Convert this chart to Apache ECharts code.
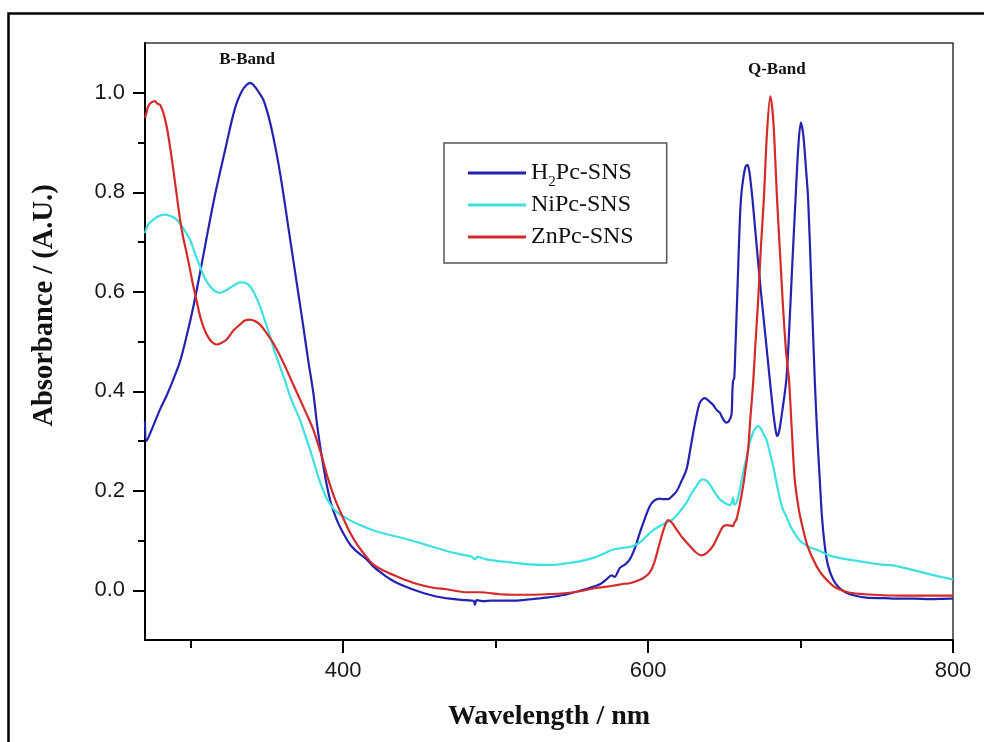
<!DOCTYPE html>
<html>
<head>
<meta charset="utf-8">
<script src="https://cdn.jsdelivr.net/npm/echarts@6/dist/echarts.min.js"></script>
<style>
html,body{margin:0;padding:0;background:#fff;}
#chart{width:984px;height:742px;}
</style>
</head>
<body>
<div id="chart"></div>
<script>
// ---------- data ----------
const seriesNames = ['H2Pc-SNS', 'NiPc-SNS', 'ZnPc-SNS'];

const h2pcWavelength = [270,271,274,279.8,284,288.6,293,297.3,301.7,306.1,310.5,314.8,319.2,323.6,327,330.1,333.5,336.7,339,341,344,347.6,351,354.1,357.5,360.7,364,367.2,370.5,373.8,377,380.4,383,385.9,389,392,396,400,405,410,415.4,420,426.3,432,437.2,442,448.2,453,459,464,470,476,481,485.5,486.4,487.5,492,497,502.8,511.5,520,527,533.4,540,547,555.2,562,568.4,572.7,576,578,581.5,585,588,590.2,592,594.6,598,601.1,604,607.7,610,613.1,616,618.7,622,625.2,627.5,629.6,631.7,633.9,636,637.2,640,642.6,644.8,647,649,651.3,653,654.7,655.3,655.7,656.5,657.2,658,659,660,661,662.5,664,665.2,666.5,668.5,671,674,677,679.8,682,683.5,684.6,686,688,690.7,692.5,694.5,696.7,698.5,700.2,701.8,703.5,705,707,709.3,711,712.6,714,715.9,718,721.3,725,730,736,743.1,755,765,775,785,797.9,800];
const h2pcAbsorbance = [0.34,0.30,0.32,0.363,0.39,0.424,0.46,0.511,0.57,0.638,0.71,0.778,0.84,0.899,0.945,0.979,1.003,1.016,1.02,1.016,1.004,0.986,0.953,0.912,0.858,0.798,0.73,0.665,0.598,0.531,0.463,0.397,0.33,0.27,0.215,0.175,0.14,0.115,0.09,0.075,0.062,0.047,0.032,0.02,0.012,0.006,-0.001,-0.006,-0.011,-0.014,-0.017,-0.019,-0.02,-0.021,-0.029,-0.02,-0.022,-0.021,-0.021,-0.021,-0.019,-0.017,-0.015,-0.012,-0.008,-0.001,0.005,0.012,0.022,0.03,0.027,0.045,0.052,0.062,0.076,0.09,0.116,0.145,0.169,0.18,0.184,0.183,0.183,0.19,0.199,0.22,0.243,0.28,0.317,0.35,0.377,0.385,0.386,0.38,0.373,0.363,0.357,0.345,0.337,0.34,0.353,0.40,0.42,0.427,0.48,0.55,0.64,0.73,0.79,0.83,0.852,0.855,0.84,0.785,0.70,0.60,0.51,0.424,0.36,0.325,0.31,0.32,0.36,0.424,0.52,0.65,0.785,0.89,0.94,0.915,0.85,0.785,0.62,0.424,0.31,0.223,0.15,0.089,0.05,0.022,0.006,-0.005,-0.011,-0.015,-0.016,-0.017,-0.017,-0.018,-0.017,-0.017];

const nipcWavelength = [270,272,275.4,279,283.1,287,290.8,295,299.5,303,306.1,309,312.6,316,319.2,322.5,325.7,329,332.3,335.5,338.9,342,345.4,348.5,352,355,358.5,362,365.1,368.5,371.6,375,378.2,381,384,387,390,394,398,402,408,415,424.1,435,446,457,467.8,477,484,486.4,488,494,500.6,510,522.5,530,537.7,546,555.2,565,572.7,577,585.8,590.2,594.6,599,603,607.7,612,616.4,620,625.2,628.5,631.7,634,636.1,638.5,640.5,643.5,647,650,653.6,655,655.8,656.5,658,660,662.3,664.5,666.7,669,671,672.2,674,675.8,677.6,680,682,684,686,688.5,690.7,694,699.5,705,712.6,717,725,735,743.1,752,760.7,768,776,785,792,797.9,800];
const nipcAbsorbance = [0.718,0.735,0.745,0.752,0.755,0.752,0.745,0.728,0.705,0.675,0.651,0.628,0.611,0.601,0.598,0.602,0.608,0.614,0.619,0.618,0.611,0.595,0.571,0.543,0.511,0.48,0.45,0.42,0.39,0.365,0.343,0.312,0.283,0.255,0.225,0.2,0.18,0.163,0.152,0.145,0.135,0.126,0.116,0.108,0.099,0.089,0.079,0.072,0.068,0.062,0.067,0.062,0.059,0.056,0.052,0.051,0.051,0.054,0.058,0.066,0.076,0.082,0.086,0.089,0.096,0.109,0.12,0.129,0.136,0.143,0.155,0.176,0.195,0.209,0.22,0.223,0.22,0.213,0.198,0.183,0.176,0.171,0.178,0.186,0.172,0.176,0.2,0.236,0.266,0.297,0.318,0.328,0.33,0.325,0.313,0.303,0.275,0.25,0.22,0.19,0.162,0.148,0.125,0.1,0.088,0.079,0.072,0.065,0.06,0.056,0.052,0.05,0.045,0.039,0.032,0.027,0.023,0.022];

const znpcWavelength = [270,271,272,274,276.6,278,279.8,282,284.2,286.5,288.6,291,293,295,297.3,299.5,301.7,304,306.1,308.5,310.5,313.5,317,320,323.6,328,332.3,335.5,338.9,342,345.4,349.5,354.1,358.5,362.8,367,371.6,376,380.4,383,385.9,390,395,400,405,410,415,419.7,426,437.2,448,459,467.8,480.9,489.7,502.8,511.5,522,533.4,545,555.2,565,577,584,588,594.6,598,601.1,604,607.7,610.5,613.1,615.5,618.7,623,627.4,631,635,638.5,642.6,646,649.2,652,655.7,656.5,658,660,662.3,664,665.6,667.2,668.9,670.5,672.2,674,675.9,678,680.2,682,683.5,684.6,686.5,688.5,690.5,692.4,694.3,696.2,699,701.7,705,710.4,715,721.3,727,732.3,742,754.1,770,785,797.9,800];
const znpcAbsorbance = [0.95,0.96,0.972,0.98,0.983,0.978,0.976,0.96,0.932,0.89,0.845,0.79,0.745,0.71,0.678,0.645,0.611,0.58,0.551,0.528,0.514,0.5,0.494,0.497,0.504,0.522,0.534,0.542,0.544,0.541,0.534,0.518,0.497,0.472,0.444,0.415,0.384,0.354,0.323,0.298,0.27,0.225,0.18,0.145,0.113,0.088,0.068,0.052,0.04,0.025,0.013,0.005,0.002,-0.004,-0.004,-0.008,-0.009,-0.009,-0.008,-0.006,-0.002,0.004,0.009,0.013,0.014,0.021,0.027,0.036,0.055,0.096,0.125,0.141,0.136,0.122,0.104,0.089,0.077,0.07,0.075,0.089,0.11,0.128,0.131,0.129,0.135,0.143,0.17,0.209,0.245,0.283,0.35,0.417,0.5,0.584,0.69,0.785,0.92,0.993,0.95,0.86,0.785,0.68,0.57,0.48,0.424,0.32,0.223,0.16,0.122,0.085,0.049,0.028,0.009,0,-0.005,-0.008,-0.01,-0.011,-0.011,-0.011,-0.011];

const xMajorTicks = [400, 600, 800];
const xMinorTicks = [300, 500, 700];
const yMajorTicks = [0, 0.2, 0.4, 0.6, 0.8, 1.0];
const yMinorTicks = [0.1, 0.3, 0.5, 0.7, 0.9];
const bandLabels = ['B-Band', 'Q-Band'];
const bandLabelX = [337, 684.4];
const bandLabelY = [1.066, 1.046];

// ---------- chart ----------
const zip = (xs, ys) => xs.map((x, i) => [x, ys[i]]);
const colors = ['#2323b0', '#3ee0e0', '#d42a2a'];
const serif = '"Liberation Serif","Times New Roman",serif';
const sans = '"Liberation Sans",Arial,sans-serif';

const chart = echarts.init(document.getElementById('chart'), null, {renderer: 'canvas'});

function xAxisBase(ticks, len, showLine, showLabel) {
  return {
    type: 'value', min: 270, max: 800, position: 'bottom',
    axisLine: {show: showLine, onZero: false, lineStyle: {color: '#000', width: 2}},
    axisTick: {show: true, inside: false, length: len, customValues: ticks, lineStyle: {color: '#000', width: 2}},
    axisLabel: {show: showLabel, customValues: ticks, margin: 20, color: '#1a1a1a', fontSize: 22, fontFamily: sans},
    splitLine: {show: false}
  };
}
function yAxisBase(ticks, len, showLine, showLabel) {
  return {
    type: 'value', min: -0.1, max: 1.1, position: 'left',
    axisLine: {show: showLine, onZero: false, lineStyle: {color: '#000', width: 2}},
    axisTick: {show: true, inside: false, length: len, customValues: ticks, lineStyle: {color: '#000', width: 2}},
    axisLabel: {show: showLabel, customValues: ticks, margin: 20, color: '#1a1a1a', fontSize: 22, fontFamily: sans,
      formatter: v => Number(v).toFixed(1)},
    splitLine: {show: false}
  };
}

const xMain = xAxisBase(xMajorTicks, 13, true, true);
xMain.name = 'Wavelength / nm';
xMain.nameLocation = 'middle';
xMain.nameGap = 63;
xMain.nameTextStyle = {fontFamily: serif, fontWeight: 'bold', fontSize: 28, color: '#111'};

const yMain = yAxisBase(yMajorTicks, 12, true, true);
yMain.name = 'Absorbance / (A.U.)';
yMain.nameLocation = 'middle';
yMain.nameGap = 86;
yMain.nameTextStyle = {fontFamily: serif, fontWeight: 'bold', fontSize: 28.5, color: '#111', padding: [0, 0, 0, 72]};

const seriesData = [zip(h2pcWavelength, h2pcAbsorbance), zip(nipcWavelength, nipcAbsorbance), zip(znpcWavelength, znpcAbsorbance)];

const series = seriesNames.map((name, i) => ({
  name: name,
  type: 'line',
  data: seriesData[i],
  showSymbol: false,
  symbol: 'none',
  smooth: 0.3,
  lineStyle: {color: colors[i], width: 2.2},
  itemStyle: {color: colors[i]},
  xAxisIndex: 0, yAxisIndex: 0,
  animation: false
}));

series[0].markPoint = {
  symbol: 'circle', symbolSize: 0,
  label: {show: true, position: 'inside', formatter: p => p.name, fontFamily: serif, fontWeight: 'bold', fontSize: 17, color: '#111'},
  data: bandLabels.map((n, i) => ({name: n, coord: [bandLabelX[i], bandLabelY[i]]})),
  animation: false
};

chart.setOption({
  animation: false,
  backgroundColor: '#fff',
  grid: {left: 145, right: 31, top: 43, bottom: 102, show: true, borderColor: '#333', borderWidth: 1.5, containLabel: false},
  xAxis: [xMain, xAxisBase(xMinorTicks, 8, false, false)],
  yAxis: [yMain, yAxisBase(yMinorTicks, 7, false, false)],
  legend: {
    show: true, orient: 'vertical', left: 444, top: 143,
    data: seriesNames,
    icon: 'rect', itemWidth: 58, itemHeight: 3, itemGap: -2,
    borderColor: '#555', borderWidth: 1.5, padding: [13, 32, 9, 24],
    formatter: name => name === 'H2Pc-SNS' ? '{n|H}{s|2}{n|Pc-SNS}' : '{n|' + name + '}{z| }',
    textStyle: {
      fontFamily: serif, fontSize: 24, color: '#111', lineHeight: 34,
      rich: {
        n: {fontFamily: serif, fontSize: 24, color: '#111', lineHeight: 34},
        z: {fontFamily: serif, fontSize: 2, color: '#111', lineHeight: 34, width: 1},
        s: {fontFamily: serif, fontSize: 15, color: '#111', lineHeight: 15, padding: [19, 0, 0, 0]}
      }
    }
  },
  graphic: [{
    type: 'rect', silent: true, z: 100,
    shape: {x: 8.5, y: 13.5, width: 1100, height: 900},
    style: {fill: 'none', stroke: '#000', lineWidth: 2.5}
  }],
  series: series
});
</script>
</body>
</html>
